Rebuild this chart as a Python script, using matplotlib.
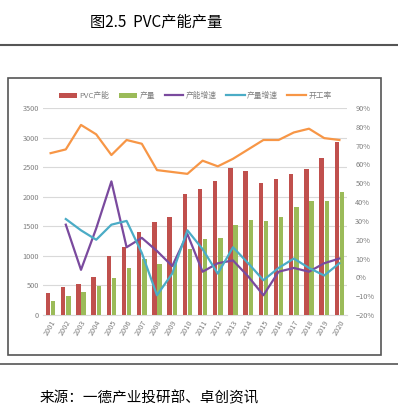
import numpy as np
import matplotlib.pyplot as plt
from matplotlib.patches import Rectangle
from matplotlib.lines import Line2D
from matplotlib.ticker import PercentFormatter

plt.rcParams['font.family'] = ['Noto Sans CJK SC', 'DejaVu Sans']

# Data
years = [str(y) for y in range(2001, 2021)]
capacity = [380, 480, 520, 650, 990, 1150, 1400, 1570, 1655, 2050,
            2130, 2270, 2480, 2440, 2235, 2300, 2390, 2475, 2660, 2920]
output = [240, 320, 390, 490, 630, 800, 940, 870, 890, 1110,
          1280, 1300, 1520, 1600, 1590, 1650, 1820, 1930, 1930, 2080]
cap_growth = [np.nan, 0.28, 0.04, 0.26, 0.51, 0.16, 0.21, 0.14, 0.06, 0.23,
              0.03, 0.075, 0.09, 0.005, -0.095, 0.03, 0.05, 0.03, 0.075, 0.10]
out_growth = [np.nan, 0.31, 0.25, 0.20, 0.28, 0.30, 0.13, -0.095, 0.02, 0.25,
              0.15, 0.02, 0.16, 0.075, -0.015, 0.05, 0.10, 0.05, 0.01, 0.075]
op_rate = [0.66, 0.68, 0.81, 0.76, 0.65, 0.73, 0.71, 0.57, 0.56, 0.55,
           0.62, 0.59, 0.63, 0.68, 0.73, 0.73, 0.77, 0.79, 0.74, 0.73]

red = '#C0504D'
green = '#9BBB59'
purple = '#7A4A9E'
teal = '#4BACC6'
orange = '#F79646'
tick_color = '#7f7f7f'

fig = plt.figure(figsize=(3.98, 4.18), dpi=100)

# page decorations
fig.text(90 / 398, 1 - 22 / 418, '图2.5  PVC产能产量', fontsize=11, va='center',
         ha='left', fontweight='light')
fig.add_artist(Line2D([0, 1], [1 - 45 / 418] * 2, color='#555555', lw=1.5))
fig.add_artist(Rectangle((8 / 398, 1 - 355 / 418), 373 / 398, 277 / 418,
                         fill=False, edgecolor='#555555', lw=1.2))
fig.add_artist(Line2D([0, 1], [1 - 364 / 418] * 2, color='#555555', lw=1.2))
fig.text(40 / 398, 1 - 398 / 418, '来源：一德产业投研部、卓创资讯', fontsize=10.5,
         va='center', ha='left', fontweight='light')

ax = fig.add_axes([43 / 398, 1 - 315 / 418, 304 / 398, 207 / 418])
x = np.arange(len(years))
w = 0.3
b1 = ax.bar(x - 0.17, capacity, w, color=red, label='PVC产能', zorder=3)
b2 = ax.bar(x + 0.17, output, w, color=green, label='产量', zorder=3)
ax.set_xlim(-0.5, len(years) - 0.5)
ax.set_ylim(0, 3500)
ax.set_yticks(range(0, 3501, 500))
ax.grid(axis='y', color='#d9d9d9', lw=0.8, zorder=0)
ax.set_xticks(x)
ax.set_xticklabels(years, rotation=60, ha='right', rotation_mode='anchor')
for s in ax.spines.values():
    s.set_visible(False)
ax.spines['bottom'].set_visible(True)
ax.spines['bottom'].set_color('#d9d9d9')
ax.tick_params(length=0, labelsize=5.3, colors=tick_color, pad=3)

ax2 = ax.twinx()
l1, = ax2.plot(x, cap_growth, color=purple, lw=1.6, label='产能增速', zorder=4)
l2, = ax2.plot(x, out_growth, color=teal, lw=1.6, label='产量增速', zorder=4)
l3, = ax2.plot(x, op_rate, color=orange, lw=1.6, label='开工率', zorder=4)
ax2.set_ylim(-0.2, 0.9)
ax2.set_yticks(np.arange(-0.2, 0.91, 0.1))
ax2.yaxis.set_major_formatter(PercentFormatter(1.0, decimals=0))
for s in ax2.spines.values():
    s.set_visible(False)
ax2.tick_params(length=0, labelsize=5.3, colors=tick_color, pad=6)

fig.legend(handles=[b1, b2, l1, l2, l3], loc='center',
           bbox_to_anchor=(195 / 398, 1 - 96 / 418), ncol=5, frameon=False,
           fontsize=5.6, handlelength=2.4, handletextpad=0.3, columnspacing=1.2,
           labelcolor=tick_color)

fig.savefig('out.png', dpi=100)
